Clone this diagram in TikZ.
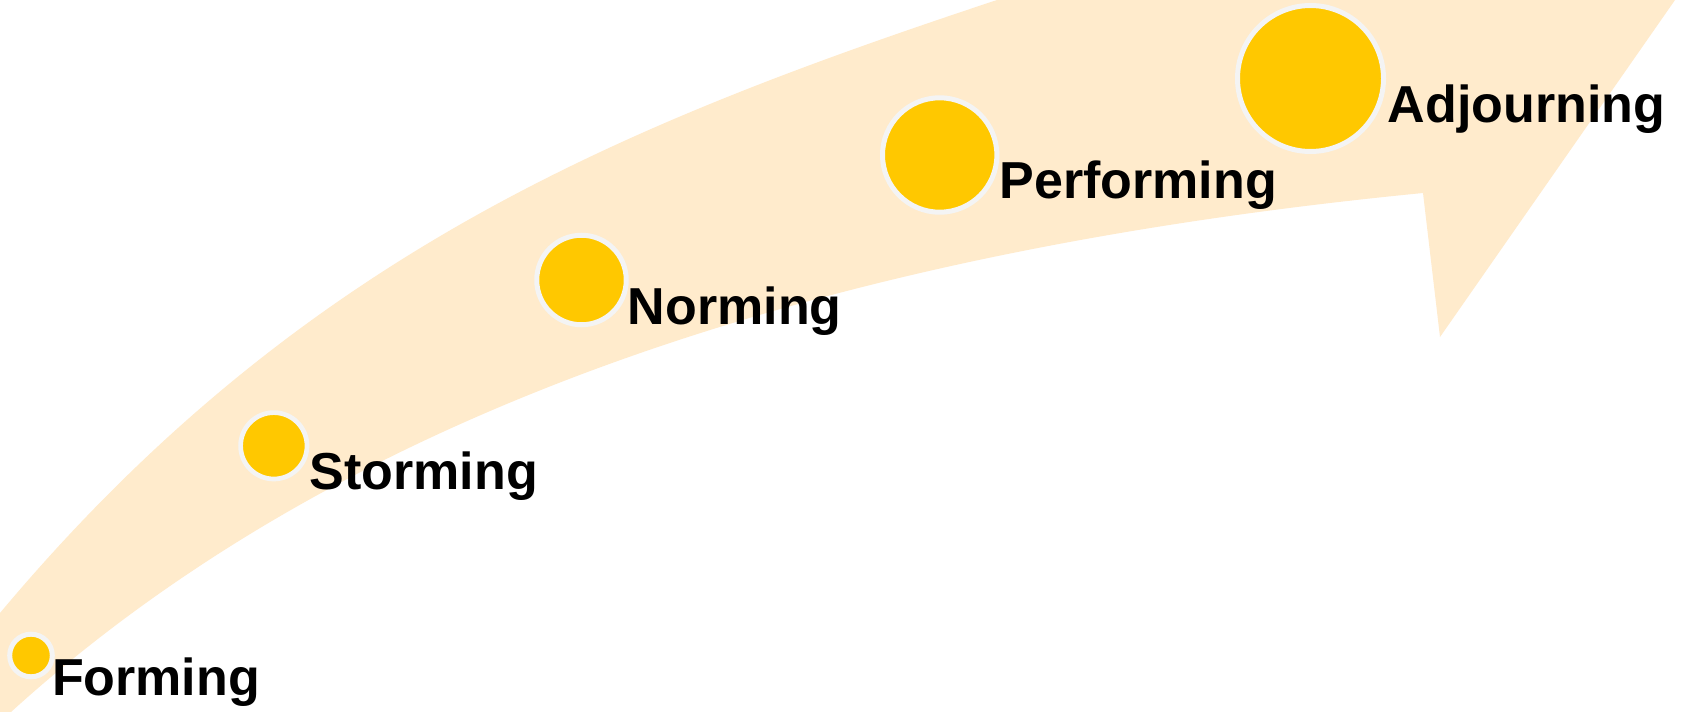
\documentclass[tikz,border=0pt]{standalone}
\usepackage{fontspec}
\setmainfont{Liberation Sans}
\usetikzlibrary{calc}
\definecolor{band}{HTML}{FFEBCC}
\definecolor{gold}{HTML}{FFC800}
\definecolor{ringc}{HTML}{F4F4F4}
\begin{document}
\begin{tikzpicture}[x=1pt,y=-1pt,
  stage/.style={circle, fill=gold, draw=ringc, line width=5pt, inner sep=0pt},
  lbl/.style={anchor=base west, inner sep=0pt, font=\fontsize{52}{60}\selectfont\bfseries}]
\useasboundingbox (0,0) rectangle (1687,712);
\fill[white] (0,0) rectangle (1687,712);
\begin{scope}
\clip (0,0) rectangle (1687,712);
\fill[band] (0,613) .. controls (300,255) and (620,125) .. (997,0) -- (1675,0) -- (1440,337) -- (1423,193)
  .. controls (860,248) and (360,395) .. (11,712) -- (0,712) -- cycle;
\end{scope}
\node[stage, minimum size=42.6pt] (c1) at (31,655.5) {};
\node[stage, minimum size=66.4pt, line width=4.7pt] (c2) at (273.8,445.8) {};
\node[stage, minimum size=89.5pt] (c3) at (581.5,280) {};
\node[stage, minimum size=114.4pt] (c4) at (939.7,155) {};
\node[stage, minimum size=146pt] (c5) at (1310.5,78.5) {};
\node[lbl] (t1) at ($(c1.east)+(-3,39.5)$) {Forming};
\node[lbl] (t2) at ($(c2.east)+(0,43.2)$) {Storming};
\node[lbl] (t3) at ($(c3.east)+(-1,44)$) {Norming};
\node[lbl] (t4) at ($(c4.east)+(0,43.3)$) {Performing};
\node[lbl] (t5) at ($(c5.east)+(1.5,44.2)$) {Adjourning};
\end{tikzpicture}
\end{document}
